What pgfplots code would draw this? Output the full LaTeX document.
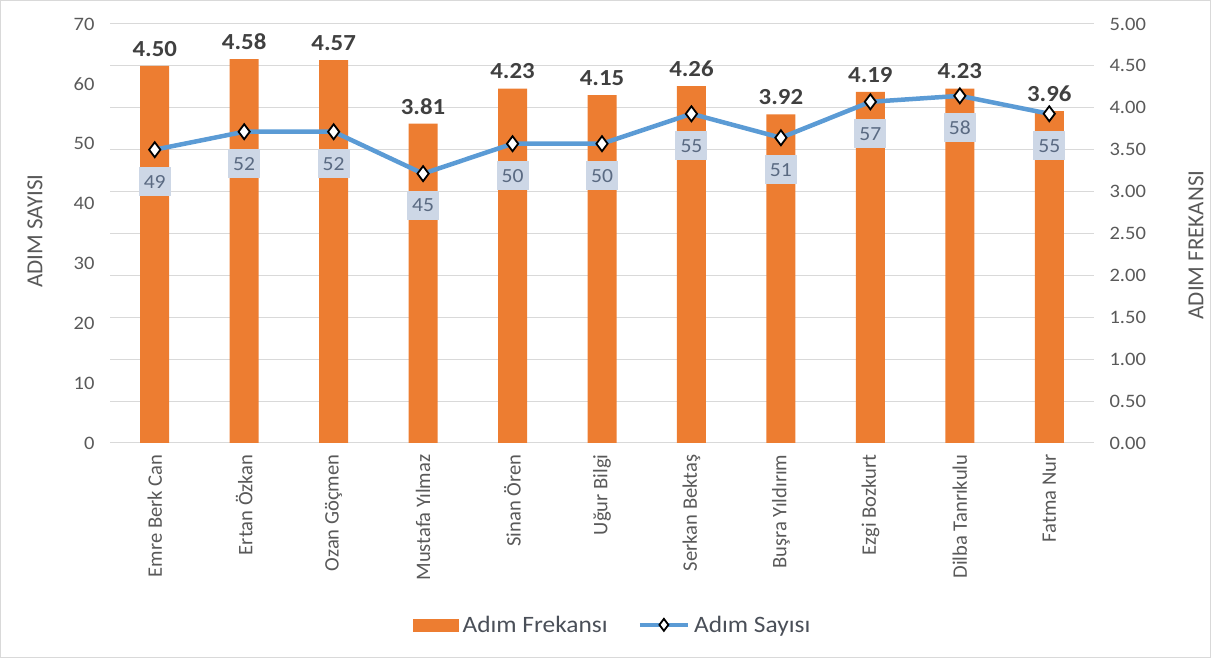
\documentclass[border=0pt]{standalone}
\usepackage{pgfplots}
\pgfplotsset{compat=1.18}
\usepackage{fontspec}
\setmainfont{Carlito}[FakeStretch=1.08]
\newfontfamily\rotfont{Carlito}
\definecolor{barorange}{HTML}{ED7D31}
\definecolor{lineblue}{HTML}{5B9BD5}
\definecolor{gridgray}{HTML}{D9D9D9}
\definecolor{tickgray}{HTML}{595959}
\definecolor{legendgray}{HTML}{4A4F58}
\definecolor{labeldark}{HTML}{404040}
\definecolor{boxblue}{HTML}{CDD7E6}
\definecolor{boxtext}{HTML}{5A6A82}
\definecolor{framegray}{HTML}{D9D9D9}
\pgfplotsset{/pgf/number format/assume math mode=true,
  linelegend/.style={legend image code/.code={\draw[##1, mark repeat=2, mark phase=2, mark size=6pt] plot coordinates {(0pt,0pt) (24pt,0pt) (48pt,0pt)};}}}
\begin{document}
\begin{tikzpicture}[x=1pt,y=1pt]
\draw[color=framegray, line width=1pt] (0.5,0.5) rectangle (1210.5,657.5);
% Bars: Adim Frekansi (right axis)
\begin{axis}[
  at={(110pt,215pt)}, anchor=south west, scale only axis,
  width=984pt, height=419pt,
  xmin=-0.5, xmax=10.5, ymin=0, ymax=5,
  axis line style={draw=none}, major tick length=0pt,
  ytick={0,0.5,1,1.5,2,2.5,3,3.5,4,4.5,5},
  yticklabel pos=right,
  ymajorgrids, grid style={gridgray, line width=1pt},
  xtick={0,1,2,3,4,5,6,7,8,9,10},
  xticklabels={Emre Berk Can, Ertan Özkan, Ozan Göçmen, Mustafa Yılmaz, Sinan Ören, Uğur Bilgi, Serkan Bektaş, Buşra Yıldırım, Ezgi Bozkurt, Dilba Tanrıkulu, Fatma Nur},
  xticklabel style={rotate=90, anchor=east, font=\rotfont\fontsize{20.6}{24}\selectfont, text=tickgray},
  xticklabel shift=8pt,
  yticklabel style={font=\fontsize{19}{23}\selectfont, text=tickgray,
    /pgf/number format/.cd, fixed, fixed zerofill, precision=2},
  yticklabel shift=12pt,
  ylabel={ADIM FREKANSI},
  ylabel style={at={(axis description cs:1.1037,0.4726)}, anchor=center,
    font=\rotfont\fontsize{23}{27}\selectfont, text=tickgray},
]
\addplot[ybar, bar width=29pt, fill=barorange, draw=none,
  nodes near coords={\pgfmathprintnumber[fixed,fixed zerofill,precision=2]{\pgfplotspointmeta}},
  every node near coord/.append style={font=\bfseries\fontsize{23}{27}\selectfont, text=labeldark, anchor=south, yshift=6pt}]
coordinates {(0,4.50) (1,4.58) (2,4.57) (3,3.81) (4,4.23) (5,4.15) (6,4.26) (7,3.92) (8,4.19) (9,4.23) (10,3.96)};
\end{axis}
% Line: Adim Sayisi (left axis)
\begin{axis}[
  at={(110pt,215pt)}, anchor=south west, scale only axis,
  width=984pt, height=419pt,
  xmin=-0.5, xmax=10.5, ymin=0, ymax=70,
  axis line style={draw=none}, major tick length=0pt,
  ytick={0,10,20,30,40,50,60,70},
  yticklabel pos=left,
  xtick=\empty,
  yticklabel style={font=\fontsize{19}{23}\selectfont, text=tickgray},
  yticklabel shift=12pt,
  ylabel={ADIM SAYISI},
  ylabel style={at={(axis description cs:-0.0762,0.506)}, anchor=center,
    font=\rotfont\fontsize{23}{27}\selectfont, text=tickgray},
  legend columns=2,
  legend cell align=left,
  legend style={at={(0.511,-0.434)}, anchor=center, draw=none, fill=none,
    font=\fontsize{23.5}{27}\selectfont, text=legendgray,
    /tikz/every odd column/.append style={column sep=2pt},
    /tikz/every even column/.append style={column sep=28pt}},
]
\addlegendimage{legend image code/.code={\fill[barorange] (0pt,-6pt) rectangle (45pt,6pt);}}
\addlegendentry{Adım Frekansı}
\addplot[lineblue, line width=4.5pt, mark=diamond*, mark size=7.5pt,
  mark options={fill=white, draw=black, line width=1.8pt},
  linelegend,
  nodes near coords,
  every node near coord/.append style={anchor=center, yshift=-32pt, fill=boxblue, text=boxtext,
    font=\fontsize{20}{24}\selectfont, minimum width=32pt, minimum height=29pt, inner sep=1pt}]
coordinates {(0,49) (1,52) (2,52) (3,45) (4,50) (5,50) (6,55) (7,51) (8,57) (9,58) (10,55)};
\addlegendentry{Adım Sayısı}
\end{axis}
\end{tikzpicture}
\end{document}
